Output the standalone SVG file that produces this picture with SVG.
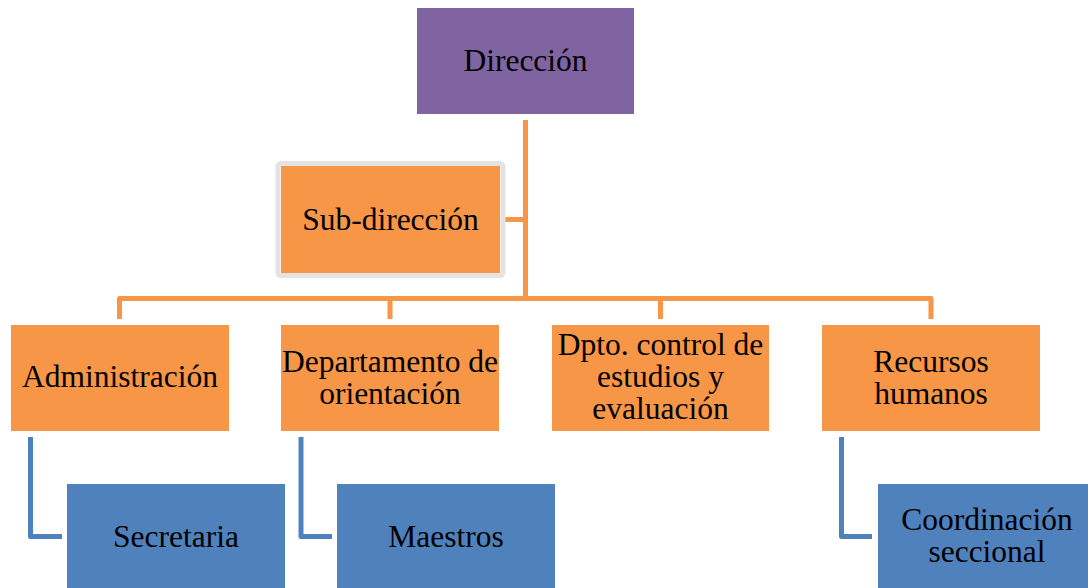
<svg xmlns="http://www.w3.org/2000/svg" width="1088" height="588" viewBox="0 0 1088 588">
<style>
.t{font-family:"Liberation Serif","Times New Roman",serif;font-size:31.5px;fill:#000;text-anchor:middle}
.o{fill:#F79646}
.p{fill:#8064A2}
.b{fill:#4F81BD}
.co{fill:none;stroke:#F79646;stroke-width:5;stroke-linejoin:round}
.cb{fill:none;stroke:#4F81BD;stroke-width:5;stroke-linejoin:round}
</style>
<rect width="1088" height="588" fill="#fff"/>
<g id="connectors">
<path class="co" d="M525.5 120V298.5"/>
<path class="co" d="M503 219.5H525.5"/>
<path class="co" d="M119.5 319V298.5H931V319"/>
<path class="co" d="M390 298.5V319"/>
<path class="co" d="M660.5 298.5V319"/>
<path class="cb" d="M30.5 437V536.5H62"/>
<path class="cb" d="M301 437V536.5H332"/>
<path class="cb" d="M841.5 437V536.5H872"/>
</g>
<g id="direccion">
<rect class="p" x="417" y="8" width="217" height="106"/>
<text class="t" x="525.5" y="71">Dirección</text>
</g>
<g id="subdireccion">
<rect x="278" y="163.5" width="225" height="112" rx="3" fill="none" stroke="#E3E3E3" stroke-width="5"/>
<rect class="o" x="281" y="166" width="219" height="107"/>
<text class="t" x="390.5" y="230">Sub-dirección</text>
</g>
<g id="administracion">
<rect class="o" x="11" y="325" width="218" height="106"/>
<text class="t" x="120" y="387">Administración</text>
</g>
<g id="departamento">
<rect class="o" x="281" y="325" width="218" height="106"/>
<text class="t" x="390" y="372">Departamento de</text>
<text class="t" x="390" y="404">orientación</text>
</g>
<g id="dpto-control">
<rect class="o" x="552" y="325" width="217" height="106"/>
<text class="t" x="660.5" y="355">Dpto. control de</text>
<text class="t" x="660.5" y="387">estudios y</text>
<text class="t" x="660.5" y="419">evaluación</text>
</g>
<g id="recursos">
<rect class="o" x="822" y="325" width="218" height="106"/>
<text class="t" x="931" y="372">Recursos</text>
<text class="t" x="931" y="404">humanos</text>
</g>
<g id="secretaria">
<rect class="b" x="67" y="484" width="218" height="110"/>
<text class="t" x="176" y="547">Secretaria</text>
</g>
<g id="maestros">
<rect class="b" x="337" y="484" width="218" height="110"/>
<text class="t" x="446" y="547">Maestros</text>
</g>
<g id="coordinacion">
<rect class="b" x="878" y="484" width="218" height="110"/>
<text class="t" x="987" y="530">Coordinación</text>
<text class="t" x="987" y="562">seccional</text>
</g>
</svg>
